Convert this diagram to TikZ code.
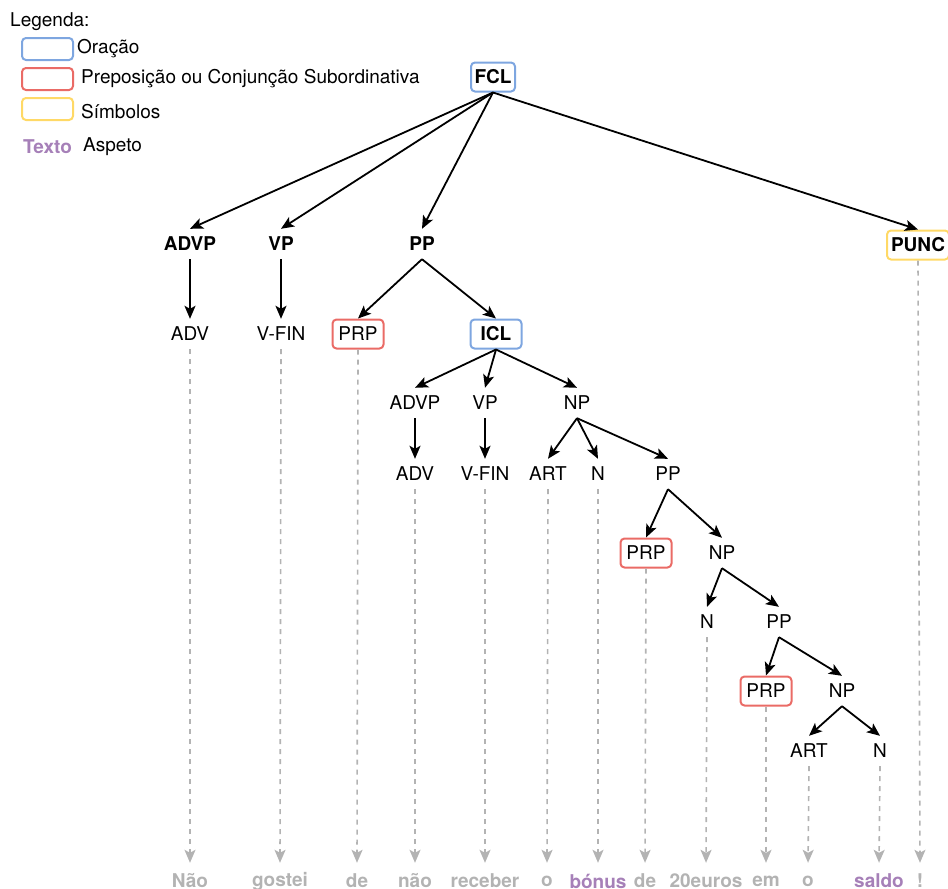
\documentclass[tikz,border=0pt]{standalone}
\usepackage{fontspec}
\setmainfont{TeX Gyre Heros}
\usetikzlibrary{arrows.meta}
\definecolor{clauseblue}{HTML}{7EA6E0}
\definecolor{prepred}{HTML}{EA6B66}
\definecolor{symyellow}{HTML}{FFD966}
\definecolor{aspectpurple}{HTML}{A680B8}
\definecolor{wordgray}{HTML}{B3B3B3}
\tikzset{
  tagfont/.style={font=\fontsize{19}{21}\selectfont, inner sep=0pt},
  cat/.style={tagfont, minimum height=30pt},
  phrase/.style={cat, font=\fontsize{19}{21}\selectfont\bfseries},
  tagbox/.style={draw, line width=2pt, rounded corners=4pt, minimum width=51pt, minimum height=29pt},
  clause/.style={phrase, tagbox, draw=clauseblue},
  prep/.style={cat, tagbox, draw=prepred},
  sym/.style={phrase, tagbox, draw=symyellow},
  word/.style={cat, font=\fontsize{19}{21}\selectfont\bfseries, text=wordgray},
  aspect/.style={word, text=aspectpurple},
  edge/.style={->, line width=1.8pt},
  lex/.style={->, line width=1.6pt, draw=wordgray, dash pattern=on 5pt off 5pt, shorten >=3pt},
}
\begin{document}
\begin{tikzpicture}[x=1pt, y=-1pt, >={Stealth[length=13pt,width=11pt,inset=3pt]}]
\useasboundingbox (0,0) rectangle (948,889);
\clip (0,0) rectangle (948,889);

% legend
\node[tagfont, anchor=west] (legtitle) at (10,22) {Legenda:};
\node[tagbox, draw=clauseblue, minimum width=51pt, minimum height=22pt] (legclause) at (47.5,49) {};
\node[tagfont, anchor=west] at (77,49) {Oração};
\node[tagbox, draw=prepred, minimum width=51pt, minimum height=22pt] (legprep) at (47.5,79) {};
\node[tagfont, anchor=west] at (81,79) {Preposição ou Conjunção Subordinativa};
\node[tagbox, draw=symyellow, minimum width=51pt, minimum height=22pt] (legsym) at (47.5,109) {};
\node[tagfont, anchor=west] at (81,112) {Símbolos};
\node[tagfont, anchor=west, font=\fontsize{19}{21}\selectfont\bfseries, text=aspectpurple] (legasp) at (23,147) {Texto};
\node[tagfont, anchor=west] at (83,147) {Aspeto};

% tree
\node[clause, minimum width=44pt] (fcl) at (493,77) {FCL};

\node[phrase] (advp) at (190,244) {ADVP};
\node[phrase] (vp) at (281,244) {VP};
\node[phrase] (pp) at (422,244) {PP};
\node[sym, minimum width=62pt] (punc) at (918,245) {PUNC};

\node[cat] (adv) at (190,334) {ADV};
\node[cat] (vfin) at (281,334) {V-FIN};
\node[prep] (prp) at (358,334) {PRP};
\node[clause] (icl) at (496,334) {ICL};

\node[cat] (advpb) at (415,403) {ADVP};
\node[cat] (vpb) at (485,403) {VP};
\node[cat] (np) at (577,403) {NP};

\node[cat] (advb) at (415,474) {ADV};
\node[cat] (vfinb) at (485,474) {V-FIN};
\node[cat] (art) at (548,474) {ART};
\node[cat] (n) at (598,474) {N};
\node[cat] (ppb) at (668,474) {PP};

\node[prep] (prpb) at (646,553) {PRP};
\node[cat] (npb) at (722,553) {NP};

\node[cat] (nb) at (707,622) {N};
\node[cat] (ppc) at (779,622) {PP};

\node[prep] (prpc) at (766,691) {PRP};
\node[cat] (npc) at (842,691) {NP};

\node[cat] (artb) at (809,751) {ART};
\node[cat] (nc) at (880,751) {N};

% words
\node[word] (w1) at (190,881) {Não};
\node[word] (w2) at (280,881) {gostei};
\node[word] (w3) at (357,881) {de};
\node[word] (w4) at (415,881) {não};
\node[word] (w5) at (485,881) {receber};
\node[word] (w6) at (547,881) {o};
\node[aspect] (w7) at (598,881) {bónus};
\node[word] (w8) at (645,881) {de};
\node[word] (w9) at (706,881) {20euros};
\node[word] (w10) at (766,881) {em};
\node[word] (w11) at (808,881) {o};
\node[aspect] (w12) at (879,881) {saldo};
\node[word] (w13) at (920,881) {!};

\draw[edge] (fcl.south) -- (advp.north);
\draw[edge] (fcl.south) -- (vp.north);
\draw[edge] (fcl.south) -- (pp.north);
\draw[edge] (fcl.south) -- (punc.north);
\draw[edge] (advp) -- (adv);
\draw[edge] (vp) -- (vfin);
\draw[edge] (pp.south) -- (prp.north);
\draw[edge] (pp.south) -- (icl.north);
\draw[edge] (icl.south) -- (advpb.north);
\draw[edge] (icl.south) -- (vpb.north);
\draw[edge] (icl.south) -- (np.north);
\draw[edge] (advpb) -- (advb);
\draw[edge] (vpb) -- (vfinb);
\draw[edge] (np.south) -- (art.north);
\draw[edge] (np.south) -- (n.north);
\draw[edge] (np.south) -- (ppb.north);
\draw[edge] (ppb.south) -- (prpb.north);
\draw[edge] (ppb.south) -- (npb.north);
\draw[edge] (npb.south) -- (nb.north);
\draw[edge] (npb.south) -- (ppc.north);
\draw[edge] (ppc.south) -- (prpc.north);
\draw[edge] (ppc.south) -- (npc.north);
\draw[edge] (npc.south) -- (artb.north);
\draw[edge] (npc.south) -- (nc.north);

\draw[lex] (adv.south) -- (w1.north);
\draw[lex] (vfin.south) -- (w2.north);
\draw[lex] (prp.south) -- (w3.north);
\draw[lex] (advb.south) -- (w4.north);
\draw[lex] (vfinb.south) -- (w5.north);
\draw[lex] (art.south) -- (w6.north);
\draw[lex] (n.south) -- (w7.north);
\draw[lex] (prpb.south) -- (w8.north);
\draw[lex] (nb.south) -- (w9.north);
\draw[lex] (prpc.south) -- (w10.north);
\draw[lex] (artb.south) -- (w11.north);
\draw[lex] (nc.south) -- (w12.north);
\draw[lex] (punc.south) -- (w13.north);
\end{tikzpicture}
\end{document}
